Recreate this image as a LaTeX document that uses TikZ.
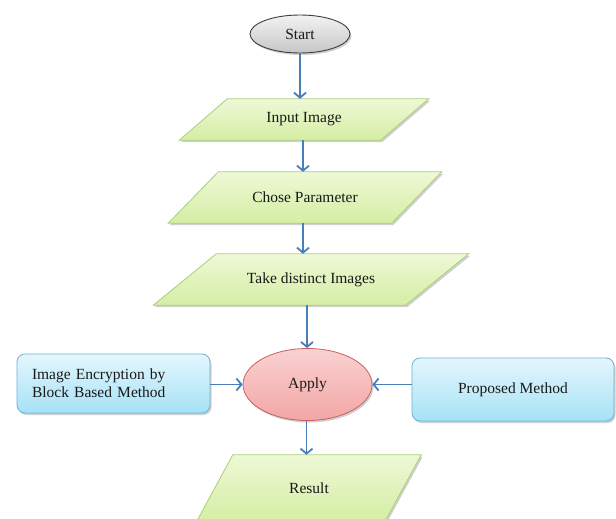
\documentclass[tikz,border=0pt]{standalone}
\usepackage{fontspec}
\setmainfont{Liberation Serif}
\usetikzlibrary{shapes.geometric,arrows.meta,shadows,backgrounds}
\definecolor{grtop}{HTML}{EEF8D6}
\definecolor{grbot}{HTML}{D5EEA4}
\definecolor{grline}{HTML}{A9CF7A}
\definecolor{bltop}{HTML}{E4F6FD}
\definecolor{blbot}{HTML}{A6E2F6}
\definecolor{blline}{HTML}{6CB2D6}
\definecolor{pktop}{HTML}{FAD2D1}
\definecolor{pkbot}{HTML}{F2A6A5}
\definecolor{pkline}{HTML}{C9605E}
\definecolor{gytop}{HTML}{F2F2F2}
\definecolor{gybot}{HTML}{C6C6C6}
\definecolor{gyline}{HTML}{3D3D3D}
\definecolor{arrblue}{HTML}{4A7EBB}
\tikzset{
  lbl/.style={font=\fontsize{15.5}{18}\selectfont, text=black!90},
  softshadow/.style={drop shadow={shadow xshift=1.5pt, shadow yshift=-2pt, opacity=0.3, fill=black!60}},
  parabox/.style={lbl, inner sep=0pt},
  parashape/.style={draw=grline, line width=0.8pt, top color=grtop, bottom color=grbot, softshadow},
  termshape/.style={lbl, ellipse, draw=gyline, line width=0.9pt, top color=gytop, bottom color=gybot, softshadow, inner sep=0pt},
  applyshape/.style={lbl, ellipse, draw=pkline, line width=0.8pt, top color=pktop, bottom color=pkbot, softshadow, inner sep=0pt},
  sidebox/.style={lbl, rectangle, rounded corners=8pt, draw=blline, line width=0.8pt, top color=bltop, bottom color=blbot, softshadow},
  flow/.style={draw=arrblue, line width=1.8pt, -{Straight Barb[length=5pt,width=12pt]}}
}
\begin{document}
\begin{tikzpicture}[x=1pt,y=-1pt]
\useasboundingbox (0,0) rectangle (616,519);

\node[termshape, minimum width=100pt, minimum height=38pt] (start) at (300,34) {Start};

\node[parabox, minimum width=201pt, minimum height=41pt] (in) at (304,119.5) {Input Image};
\node[parabox, minimum width=223pt, minimum height=51pt] (ch) at (305,197.5) {Chose Parameter};
\node[parabox, minimum width=252pt, minimum height=51pt] (tk) at (311,279.5) {Take distinct Images};
\node[parabox, minimum width=188pt, minimum height=66pt] (rs) at (309,488) {Result};

\node[applyshape, minimum width=129pt, minimum height=72pt] (ap) at (307.5,384.5) {Apply};

\node[sidebox, minimum width=193pt, minimum height=59pt, text width=163pt, inner xsep=15pt, align=left] (lb) at (113.5,383.5) {Image Encryption by\\Block Based Method};
\node[sidebox, minimum width=202pt, minimum height=63pt] (rb) at (513,389.5) {Proposed Method};

\begin{scope}[on background layer]
\fill[white] (0,0) rectangle (616,519);
\foreach \n/\s in {in/24, ch/25, tk/31.5, rs/18}{
  \path[parashape] ([xshift=-\s pt]\n.south west) -- ([xshift=\s pt]\n.north west)
     -- ([xshift=\s pt]\n.north east) -- ([xshift=-\s pt]\n.south east) -- cycle;
}
\end{scope}

\draw[flow] (start.south) -- (start.south |- in.north);
\draw[flow] ([xshift=-1pt]in.south) -- ([xshift=-1pt]in.south |- ch.north);
\draw[flow] ([xshift=-2pt]ch.south) -- ([xshift=-2pt]ch.south |- tk.north);
\draw[flow] ([xshift=-4pt]tk.south) -- ([xshift=-4pt]tk.south |- ap.north);
\draw[flow] ([xshift=-1pt]ap.south) -- ([xshift=-1pt]ap.south |- rs.north);
\draw[flow] (lb.east |- ap.west) -- (ap.west);
\draw[flow] (rb.west |- ap.east) -- (ap.east);
\end{tikzpicture}
\end{document}
